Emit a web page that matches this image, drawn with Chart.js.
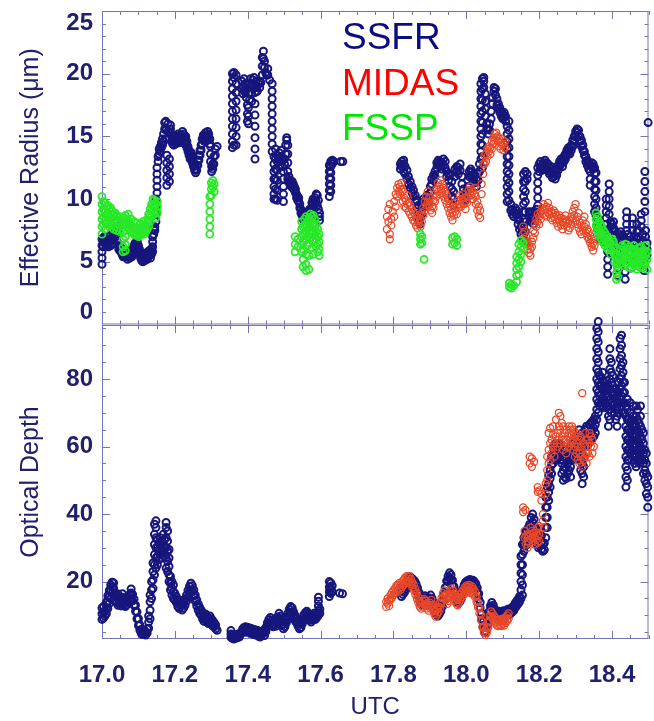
<!DOCTYPE html>
<html>
<head>
<meta charset="utf-8">
<title>SSFR / MIDAS / FSSP retrievals</title>
<script src="https://cdn.jsdelivr.net/npm/chart.js@4.4.1/dist/chart.umd.min.js"></script>
<style>
  body { margin: 0; background: #fff; }
  #wrap { position: relative; width: 654px; height: 721px; background: #fff; }
  #wrap canvas { position: absolute; left: 0; }
</style>
</head>
<body>
<div id="wrap">
  <canvas id="reffChart" width="654" height="330" style="top:0"></canvas>
  <canvas id="tauChart" width="654" height="406" style="top:315px"></canvas>
</div>
<script>
// rows: [UTC hour, values at that time...]

const seriesNames = ['SSFR', 'MIDAS', 'FSSP'];
const legendColors = ['#0c0c82', '#ff0000', '#00e600'];
const markerColors = ['#16167c', 'rgb(232,72,40)', 'rgb(40,232,40)'];
const markerWidths = [2.0, 1.3, 1.8];

const xTicks = [17.0, 17.2, 17.4, 17.6, 17.8, 18.0, 18.2, 18.4];
const reffTicks = [0, 5, 10, 15, 20, 25];
const tauTicks = [20, 40, 60, 80];

// effective radius (um), SSFR
const ssfrReff = [
  [17.000,4.8,5.3,5.8,6.3,6.8],[17.003,6.9,6.2],[17.006,6.6,7.0],[17.009,6.4,6.9],[17.012,6.8,6.3],
  [17.015,6.5,7.0],[17.018,6.2,6.7],[17.021,6.6,7.1],[17.024,6.3,6.8],[17.027,6.9,6.4],[17.030,7.4,6.8],
  [17.034,8.1,7.5,6.9],[17.038,7.7,7.0],[17.042,8.2,7.4,6.6],[17.046,6.3,6.0],[17.049,5.9,6.2],
  [17.052,5.8,6.1],[17.055,5.6,6.0],[17.058,5.7,5.4],[17.061,5.5,5.9],[17.064,5.4,5.7],[17.067,5.6,5.9],
  [17.070,5.5,5.2],[17.073,5.4,5.8],[17.076,5.6,5.3],[17.079,5.5,5.9],[17.082,5.8,5.4],[17.085,5.6,6.0],
  [17.088,5.9,6.3],[17.091,6.1,6.5],[17.094,6.4,6.0],[17.097,6.6,6.1],[17.100,6.3,5.9],[17.103,6.0,5.6],
  [17.106,5.7,5.3],[17.109,5.5,5.1],[17.112,5.4,5.0],[17.115,5.6,5.2],[17.118,5.5,5.1],[17.121,5.7,5.3],
  [17.124,5.5,5.2],[17.127,5.4,5.8],[17.130,5.5,5.9],[17.133,5.6,5.3],[17.136,5.6,6.0],
  [17.139,5.8,6.2,6.6,7.0],[17.142,7.2,7.6],[17.145,7.5,7.8],[17.148,8.2,8.8,9.4,10.0],
  [17.151,10.5,11.0,11.5,12.0,12.5],[17.154,13.0,13.4],[17.157,13.6,14.0],[17.160,14.2,13.8],
  [17.163,14.5,14.1],[17.166,14.3,14.8],[17.169,14.6,15.2],[17.172,15.6,16.1],[17.175,16.2,15.5,14.8],
  [17.178,13.5,12.9,12.3,11.7,11.1],[17.181,16.0,15.4],[17.185,13.2,12.6,12.0,11.4],[17.188,15.9,15.3,15.6],
  [17.191,15.0,14.6],[17.194,14.4,14.9],[17.197,14.8,14.3],[17.200,14.6,15.0],[17.203,14.9,14.4],
  [17.206,14.5,15.0],[17.209,14.7,15.2],[17.212,15.0,14.5],[17.215,14.6,15.1],[17.218,15.1,14.7],
  [17.221,15.4,14.9],[17.224,15.2,14.8],[17.227,14.9,14.4],[17.230,15.0,14.5],[17.233,14.6,14.1],
  [17.236,14.2,13.8],[17.239,13.9,13.5],[17.242,13.6,13.2],[17.245,13.7,13.2],[17.248,13.3,12.9],
  [17.251,13.0,12.6],[17.254,12.7,12.3],[17.257,12.4,12.1],[17.260,12.3,12.7],[17.263,12.7,13.1],
  [17.266,13.1,13.5],[17.269,13.5,13.9],[17.272,13.9,14.3],[17.275,14.4,14.8],[17.278,14.7,15.1],
  [17.281,15.0,14.6],[17.284,15.3,14.9],[17.287,15.1,14.7],[17.290,15.4,15.0],[17.293,15.2,14.8],
  [17.296,14.8,14.4],[17.298,14.2,13.6,13.0],[17.301,12.6,12.2],[17.304,12.4,12.8],[17.307,12.8,13.4],
  [17.311,14.0,13.5],[17.316,14.2],
  [17.358,14.1,14.6,15.2,15.8,16.4,17.0,17.6,18.2,18.8,19.4,20.0],[17.362,14.3,19.7,20.1],
  [17.368,14.3,15.0,15.7,16.4,17.1,17.8,18.5,19.2,19.9],[17.384,19.4,18.8],[17.387,19.0,18.4],
  [17.390,18.7,19.6],[17.393,19.2,18.5],[17.396,18.8,18.1],[17.399,17.5,16.8,16.2],[17.402,16.0,16.6,17.3],
  [17.405,17.9,18.5,19.2],[17.408,19.6,19.0],[17.411,18.4,17.8],[17.414,18.9,19.5],[17.417,19.7,19.1],
  [17.420,18.5,17.6,16.7,15.8,14.9,14.0,13.2],[17.423,18.9,19.4],[17.426,18.6,19.0],[17.430,19.2],
  [17.433,18.9,19.4],[17.436,19.3],[17.440,19.9,20.6,21.3],[17.443,21.8,21.2],[17.446,20.5,21.0],
  [17.449,20.1],[17.452,19.9],[17.455,20.4,19.9],[17.460,19.5],
  [17.467,19.2,18.6,18.0,17.4,16.8,16.2,15.6,15.0,14.4,13.8],[17.472,13.4,12.8,12.2,11.6,11.0,10.4,10.0],
  [17.476,14.0,13.2,12.4,11.6,10.8,10.0],[17.481,13.5,13.0,12.3,11.5,10.7,9.9],[17.486,13.3,13.7],
  [17.489,13.0,12.7],[17.492,13.4,13.9],[17.495,13.1,12.6],[17.498,12.2,11.6,11.0,10.4,9.8],
  [17.501,13.2,12.8],[17.504,13.6,14.3],[17.507,14.7,14.9],[17.510,14.3,13.6,12.9,12.2,11.6],
  [17.513,11.8,11.4],[17.516,11.5,11.2],[17.519,11.3,11.0],[17.522,11.1,11.4],[17.525,10.9,11.2],
  [17.528,10.7,11.0],[17.531,10.8,10.5],[17.534,10.4,10.1],[17.537,10.2,9.9],[17.540,9.8,10.1],
  [17.543,9.6,9.3],[17.546,9.2,8.9],[17.549,8.7,9.0],[17.552,8.4,8.8],[17.555,8.3,8.6],[17.558,8.7,8.5],
  [17.561,8.9,8.6],[17.564,8.4,8.8],[17.567,8.6,9.0],[17.570,8.8,9.2],[17.573,9.1,8.7],[17.576,9.3,9.7],
  [17.579,9.6,10.0],[17.582,9.4,9.9],[17.585,10.1,9.6],[17.588,10.4,9.8],[17.591,10.3,9.5],
  [17.594,9.9,9.2],[17.597,8.9,8.6,8.3],
  [17.624,10.2,10.7,11.2,11.7,12.2,12.7],[17.628,10.6,11.1,11.6,12.1,12.6,13.0],[17.632,12.8,13.1],
  [17.636,13.0],[17.655,13.0],[17.661,13.0],
  [17.819,12.8,12.4],[17.823,13.0,12.6],[17.828,13.1,12.8,12.2],[17.832,12.6,12.0],[17.837,12.3,11.6],
  [17.841,11.8,11.2],[17.846,11.4,10.9],[17.851,11.0,10.5],[17.855,10.7,10.2],[17.860,10.3,9.8],
  [17.864,9.9,9.3],[17.869,9.5,8.8,8.2],[17.873,8.6,8.0],[17.878,8.8,9.4],[17.882,9.6,10.0],
  [17.887,9.4,9.9],[17.892,9.8,10.3],[17.896,10.1,9.7],[17.901,10.5,11.0],[17.905,11.2,11.6],
  [17.910,11.5,11.9],[17.914,12.2,11.8],[17.919,12.5,12.9],[17.923,12.8,13.1],[17.928,12.6,13.0],
  [17.933,12.4,12.9],[17.937,12.7,13.2],[17.942,13.0,12.5],[17.946,12.2,11.8],[17.951,12.0,11.5],
  [17.955,11.9,11.0],[17.960,11.4,10.8,10.2],[17.965,10.6,10.0,9.5],[17.969,11.8,12.4],[17.974,12.6,12.2],
  [17.978,12.0,12.5],[17.983,12.8,12.3],[17.988,11.8,11.2],[17.992,10.8,10.2],[17.996,9.9,10.4],
  [18.000,10.0,10.6],[18.004,11.0,11.5],[18.008,11.8,12.2],[18.012,12.4,11.9],[18.016,12.2,11.6],
  [18.020,11.5,12.0],[18.024,11.9,11.3],[18.028,11.0,11.6],[18.032,11.5,12.0],[18.036,12.2,12.8],
  [18.040,13.2,13.8,14.4,15.0,15.6,16.2,16.8,17.4,18.0,18.6,19.2],
  [18.044,12.5,13.4,14.3,15.2,16.1,17.0,17.9,18.8,19.6],[18.048,19.4,19.7,18.9],
  [18.052,18.4,17.8,17.2,16.6],[18.056,16.0,15.6],[18.060,15.2,15.6],[18.064,15.5,16.0],
  [18.068,16.4,17.0],[18.072,17.6,18.1],[18.076,18.6,18.9],[18.080,18.8,18.3],[18.084,18.0,17.5],
  [18.088,17.2,17.6],[18.092,17.3,16.9],[18.096,16.6,17.0],[18.100,16.8,16.4],[18.104,16.5,16.9],
  [18.108,16.6,16.2],[18.112,15.8,15.2,14.6,14.0,13.4,12.8,12.2,11.6,11.0,10.4,9.8],
  [18.117,16.2,15.5,14.8,14.1,13.4,12.7,12.0,11.3,10.6,9.9],[18.122,9.6,9.1],[18.126,8.8,9.2],
  [18.130,8.6,9.0],[18.134,9.3,8.9],[18.138,8.7,9.1],[18.142,8.4,8.0],[18.146,8.3,7.6],[18.150,7.8,7.2],
  [18.154,7.5,7.0],[18.157,7.2,7.8,8.4,9.0,9.6,10.2,10.8,11.4,12.0],
  [18.162,6.6,7.4,8.2,9.0,9.8,10.6,11.4,12.2],[18.167,12.0,11.6],[18.172,8.6,9.0],[18.176,8.2,8.8],
  [18.180,8.5,9.0],[18.184,8.0,8.6],[18.188,8.3,8.9],[18.192,8.7,9.2],[18.196,9.5,10.1,10.7,11.3,11.9,12.5],
  [18.200,12.2,12.8],[18.204,12.5,13.0],[18.208,12.7,12.3],[18.212,12.4,12.9],[18.216,12.6,13.1],
  [18.220,12.9,12.4],[18.224,12.3,12.8],[18.228,12.5,12.0],[18.232,12.1,12.6],[18.236,12.0,11.7],
  [18.240,11.8,12.3],[18.244,12.0,11.6],[18.248,11.9,12.4],[18.252,12.3,12.7],[18.256,12.6,13.0],
  [18.260,12.8,13.2],[18.264,12.6,13.1],[18.268,13.0,13.4],[18.272,13.2,13.6],[18.276,13.5,13.9],
  [18.280,13.7,14.1],[18.284,14.0,13.6],[18.288,13.9,14.3],[18.292,14.2,14.7],[18.296,14.6,15.0],
  [18.300,15.0,15.4],[18.304,15.3,15.6],[18.308,15.5,15.1],[18.312,15.0,14.6],[18.316,14.7,14.2],
  [18.320,14.3,13.9],[18.324,13.8,13.5],[18.328,13.4,13.0],[18.332,13.1,12.7],[18.336,12.9,12.4],
  [18.340,12.7,12.2,11.6,11.1],[18.344,12.6,12.9],[18.348,12.4,12.8],[18.352,12.5,12.0,11.4,10.8,10.2,9.6,9.0],
  [18.356,12.1,11.4,10.7,10.0,9.3,8.7],[18.360,8.5,8.0,7.6],[18.364,7.8,7.2],[18.368,7.4,6.8],
  [18.372,7.6,7.0],[18.376,6.9,7.3],[18.380,7.1,6.6],[18.384,7.5,8.0,8.5,9.0,9.5,10.0],
  [18.388,6.4,5.8,5.2,4.6,4.0],[18.392,11.2,10.6,10.0,9.4,8.8],[18.396,8.2,7.8],[18.400,7.6,8.0],
  [18.404,8.2,7.7],[18.408,7.5,7.1],[18.412,7.0,6.5],[18.416,6.3,5.7,5.1,4.5,3.9],[18.420,6.8,7.2],
  [18.424,7.4,6.9],[18.428,6.6,7.1],[18.432,7.0,6.4],[18.436,6.0,5.4,4.8,4.2,3.6],[18.440,9.0,8.5,8.0,7.5],
  [18.444,7.2,6.7],[18.448,6.5,7.0],[18.452,6.2,5.6,5.0,4.5],[18.456,8.5,8.0,7.5],[18.460,7.0,6.6],
  [18.464,6.4,5.9],[18.468,6.8,7.4,8.0],[18.472,7.5,7.0],[18.476,6.5,6.0,5.5,5.0],[18.480,8.8,8.3,7.8],
  [18.484,7.2,6.7,6.2],[18.488,5.8,5.3,4.8,4.3],[18.490,12.2,11.4,10.6,9.8,9.0],[18.492,7.5,7.0],
  [18.496,6.5,6.0,5.5],[18.499,16.1]
];

// effective radius (um), MIDAS
const midasReff = [
  [17.782,8.6,7.6],[17.786,9.2,8.2],[17.790,9.6,7.2,6.8],[17.794,8.4,7.9],[17.798,9.0],[17.802,9.8,8.6],
  [17.806,10.4,9.4],[17.810,10.9,10.2],[17.814,11.2,10.6],[17.818,11.0,10.4],[17.822,10.8,11.3],
  [17.826,10.6,9.8],[17.830,10.1,9.4],[17.834,9.9,9.3],[17.838,10.3,9.6],[17.842,9.7,9.0],[17.846,9.5,8.8],
  [17.850,9.2,8.6],[17.854,9.0,8.3],[17.858,8.8,8.2],[17.862,8.5,7.9],[17.866,8.3,7.7],[17.870,8.7,8.1],
  [17.874,8.4,7.8],[17.878,8.9,8.2],[17.882,9.3,8.7],[17.886,9.8,9.1],[17.890,10.2,9.5],[17.894,10.6,9.8],
  [17.898,10.1,9.5],[17.902,9.7,9.1],[17.906,9.4,8.9],[17.910,9.9,9.3],[17.914,10.4,9.8],[17.918,10.8,10.2],
  [17.922,11.3,10.6],[17.926,11.0,10.4],[17.930,11.5,10.8],[17.934,11.2,10.5],[17.938,10.9,10.2],
  [17.942,10.6,9.9],[17.946,10.3,9.6],[17.950,10.0,9.3],[17.954,9.6,8.9],[17.958,9.2,8.6],[17.962,8.9,8.3],
  [17.966,9.3,8.7],[17.970,9.7,9.0],[17.974,9.4,8.8],[17.978,9.9,9.3],[17.982,10.3,9.6],[17.986,10.0,9.4],
  [17.990,10.4,9.8],[17.994,10.1,9.6],[17.998,9.8,9.2],[18.002,10.2,9.7],[18.006,10.7,10.2],[18.010,11.0,10.5],
  [18.014,10.8,10.3],[18.018,10.6,10.0],[18.022,10.9,10.4],[18.026,10.2,9.6],[18.030,9.8,9.1],[18.034,9.4,8.7],
  [18.038,9.1,8.5],[18.042,10.4,11.2],[18.046,12.0,12.8],[18.050,12.8,13.5],[18.054,13.0,13.6],
  [18.058,13.4,14.0],[18.062,13.8,14.2],[18.066,13.6,14.1],[18.070,14.0,14.6],[18.074,14.4,14.9],
  [18.078,14.7,15.2],[18.082,14.9,15.3],[18.086,14.6,15.0],[18.090,14.2,14.8],[18.094,14.0,14.5],
  [18.098,14.3,14.8],[18.102,13.9,14.4],[18.106,14.1,14.6],
  [18.156,7.8,7.2],[18.160,7.4,6.8],[18.164,7.0,6.4],[18.168,6.6,6.0],[18.172,6.3,5.7],[18.176,6.0,5.5],
  [18.180,6.6,6.2],[18.184,6.9,7.5],[18.188,7.3,8.0],[18.192,7.8,8.4],[18.196,8.2,8.8],[18.200,8.0,8.6],
  [18.204,8.4,9.0],[18.208,8.8,9.3],[18.212,9.1,9.6],[18.216,8.7,9.2],[18.220,8.6,9.4],[18.224,9.0,9.7],
  [18.228,9.3,8.8],[18.232,8.5,9.0],[18.236,8.3,8.9],[18.240,8.6,9.1],[18.244,8.9,8.4],[18.248,8.1,8.7],
  [18.252,7.8,8.4],[18.256,8.2,8.7],[18.260,7.9,8.5],[18.264,7.6,8.2],[18.268,7.9,8.4],[18.272,8.2,8.7],
  [18.276,7.8,8.3],[18.280,7.5,8.1],[18.284,7.7,8.3],[18.288,8.0,8.6],[18.292,8.4,9.0],[18.296,8.7,9.3],
  [18.300,8.3,9.6],[18.304,8.0,8.6],[18.308,7.7,8.9],[18.312,7.4,8.1],[18.316,7.2,7.9],[18.320,7.5,8.3],
  [18.324,7.8,8.6],[18.328,7.3,8.0],[18.332,7.0,7.6],[18.336,6.8,7.4],[18.340,6.5,7.1],[18.344,6.2,6.8],
  [18.348,5.9,6.5],[18.352,6.3]
];

// effective radius (um), FSSP
const fsspReff = [
  [17.000,7.2,7.8,8.4,9.0,9.6,10.2],[17.004,8.0,8.6,9.2,9.8],[17.008,7.6,8.3,9.0,9.7],[17.012,8.0,8.7,9.4],
  [17.016,8.2,8.9,9.5],[17.020,7.8,8.5,9.2],[17.024,8.1,8.8,9.3],[17.028,7.9,8.5,9.0],[17.032,7.6,8.2,8.8],
  [17.036,7.8,8.4,8.9],[17.040,7.5,8.1,8.7],[17.044,7.7,8.3],[17.048,7.4,8.0,8.6],[17.052,7.6,8.2],
  [17.058,7.4,6.8,6.2,5.8],[17.060,8.0,8.5],[17.064,8.2,8.7,7.0,6.4,5.9],[17.068,7.9,8.4],[17.072,7.7,8.2,8.8],
  [17.076,7.6,8.1],[17.080,7.4,7.9,8.4],[17.084,7.3,7.8],[17.088,7.2,7.7,8.2],[17.092,7.1,7.6],
  [17.096,7.2,7.7,8.1],[17.100,7.0,7.5],[17.104,7.1,7.6,8.0],[17.108,7.2,7.7],[17.112,7.3,7.8,8.2],
  [17.116,7.2,7.6],[17.120,7.4,7.9,8.3],[17.124,7.6,8.1],[17.128,7.8,8.3,8.8],[17.132,8.2,8.7,9.2],
  [17.136,8.6,9.1,9.6],[17.140,9.0,9.5,10.0],[17.144,8.8,9.4,9.9],[17.148,8.5,9.0,9.6],[17.152,8.9,9.4,9.8],
  [17.296,10.2,9.6,9.0,8.4,7.8,7.2],[17.300,11.3,10.8,10.3],[17.304,11.5,11.0],[17.308,11.2,10.6],
  [17.530,7.0,6.4,5.8],[17.538,6.8,6.2],[17.548,8.2,7.6,7.0,6.4,5.8],[17.552,7.8,7.2,6.6,6.0,5.2,4.6],
  [17.556,8.4,7.9,7.3,6.7],[17.560,8.6,8.0,7.4,6.8,5.6,4.8,4.3],[17.564,8.2,7.6,7.0,6.3],
  [17.568,8.5,7.9,7.3,6.5,5.5,4.4],[17.572,8.8,8.2,7.5,6.9],[17.576,8.6,8.0,7.4,6.1],
  [17.580,8.7,8.1,7.3,6.7,5.6],[17.584,8.4,7.8,7.1],[17.588,8.0,7.4,6.8,6.2],[17.592,7.6,7.0,6.4,5.8],
  [17.596,7.2,6.6,6.0,5.5],
  [17.874,7.2,6.8,6.4],[17.878,7.0,6.5],[17.884,5.2],[17.962,6.9,6.4],[17.968,7.0,6.5],[17.974,6.8,6.3],
  [18.118,3.3,3.0],[18.124,3.2,2.9],[18.130,3.1],[18.138,3.4,3.9,4.4,4.9,5.4],[18.144,4.0,4.6,5.2,5.8,6.4],
  [18.150,5.0,5.6,6.2,6.7],[18.156,6.0,6.5],
  [18.356,8.9,8.4,7.9],[18.360,8.6,8.0,7.5],[18.364,8.2,7.7,7.2],[18.368,8.0,7.4,6.9],[18.372,7.8,7.2,6.7],
  [18.376,7.5,7.0,6.5],[18.380,7.3,6.8,6.3],[18.384,7.1,6.6],[18.388,6.9,6.4,6.0],[18.392,6.7,6.2],
  [18.396,6.5,6.0,5.6],[18.400,6.8,6.3],[18.404,6.6,6.1,5.7],[18.408,6.2,5.6,5.0],[18.412,5.5,4.8,4.1,3.6],
  [18.416,5.0,4.4,3.8],[18.420,5.4,4.8],[18.424,6.0,5.4,4.9],[18.428,6.3,5.8,5.2],[18.432,6.1,5.5,4.7],
  [18.436,6.4,5.9,5.3],[18.440,6.0,5.4,4.8],[18.444,5.7,5.1,4.6],[18.448,6.2,5.6,5.0],[18.452,5.8,5.2,4.5],
  [18.456,6.0,5.4,4.9],[18.460,6.3,5.7,5.1],[18.464,5.9,5.3,4.7],[18.468,5.6,5.0,4.4],[18.472,6.1,5.5,4.9],
  [18.476,5.8,5.2,4.6],[18.480,6.2,5.6,5.0],[18.484,5.7,5.1,4.5],[18.488,5.9,5.3,4.8],[18.492,6.3,5.6,5.0],
  [18.496,5.8,5.2,4.4]
];

// optical depth, SSFR
const ssfrTau = [
  [17.000,8.8,10.5,12.2],[17.004,9.2,11.0,12.6],[17.008,9.8,11.4],[17.012,10.5,12.3,13.8],[17.016,12.0,14.0,15.8],
  [17.020,13.5,15.6,17.4],[17.024,15.0,17.2,19.0],[17.028,16.6,18.4,19.8],[17.032,16.0,18.0,19.6],
  [17.036,14.5,16.4],[17.040,13.8,15.6],[17.044,13.0,14.9,16.3],[17.048,13.5,15.2],[17.052,12.8,14.6],
  [17.056,13.6,15.4,16.4],[17.060,13.2,15.0],[17.064,12.6,14.3],[17.068,13.1,14.8],[17.072,13.8,15.6],
  [17.076,14.4,16.2],[17.080,14.8,16.6,17.8],[17.084,14.3,16.2],[17.088,13.0,14.8],[17.092,11.2,13.0],
  [17.096,9.0,11.0],[17.100,7.0,9.0],[17.104,5.6,7.2],[17.108,4.6,5.8],[17.112,4.3,5.4],[17.116,4.6,5.6],
  [17.120,4.2,5.0],[17.124,4.8,6.0],[17.128,6.2,8.0,9.8],[17.132,9.0,11.5,14.0,16.0],[17.136,15.0,17.5,20.0],
  [17.140,18.0,20.5,23.0,25.5],[17.144,22.0,25.0,28.0,31.0,34.0,37.0],[17.148,24.0,27.0,30.0,33.0,36.0,38.0],
  [17.152,25.0,27.5,30.0,32.5],[17.156,26.5,29.0,31.5],[17.160,28.0,30.5,33.0],[17.164,27.0,29.5,32.0],
  [17.168,29.0,31.5,34.0],[17.172,27.5,30.0,32.5],[17.176,24.0,27.0,30.0,33.0,36.0,37.5],
  [17.180,23.0,26.0,29.0,32.0,35.0],[17.184,20.0,22.0,24.5,27.0,29.5],[17.188,17.5,19.5,21.5],
  [17.192,16.0,18.0,20.0],[17.196,15.0,17.0,19.0],[17.200,14.5,16.5],[17.204,13.8,15.6],[17.208,12.6,14.4],
  [17.212,12.0,13.6],[17.216,12.8,14.5],[17.220,11.6,13.2],[17.224,12.2,13.9],[17.228,13.0,14.8],
  [17.232,14.2,16.0],[17.236,15.5,17.4],[17.240,16.8,18.6],[17.244,17.6,19.5],[17.248,17.0,18.8],
  [17.252,15.8,17.5],[17.256,14.2,16.0],[17.260,12.8,14.6],[17.264,11.6,13.4],[17.268,10.6,12.4],
  [17.272,10.0,11.6],[17.276,9.0,10.8],[17.280,8.2,10.0],[17.284,8.6,10.4],[17.288,8.0,9.6],[17.292,7.6,9.2],
  [17.296,8.2,9.8],[17.300,7.4,9.0],[17.304,6.8,8.4],[17.308,6.6,7.8],[17.312,6.0,7.2],[17.316,5.6],
  [17.354,3.5,4.5,5.5],[17.358,3.2,4.2],[17.362,3.0,3.8],[17.368,3.3,4.1],[17.372,3.4,4.4],[17.377,3.6,4.6],
  [17.386,4.8,6.0],[17.390,5.2,6.4],[17.394,5.6,6.6],[17.398,5.0,6.2],[17.402,5.4,6.4],[17.406,4.8,6.0],
  [17.410,5.0,6.1],[17.414,4.4,5.6],[17.418,4.8,5.8],[17.422,4.2,5.2],[17.426,4.6,5.6],[17.430,3.8,4.8],
  [17.434,3.6,4.6],[17.438,4.2,5.2],[17.442,4.6,5.5],[17.446,4.0,5.0],[17.450,5.2,6.4],[17.454,6.6,7.8],
  [17.458,7.4,8.8],[17.462,7.8,9.4],[17.466,7.0,8.6],[17.470,6.6,8.0],[17.474,7.2,8.6],[17.478,6.8,8.2],
  [17.482,8.0,9.5],[17.486,9.0,10.6],[17.490,8.2,9.8],[17.494,7.0,8.4],[17.498,6.0,7.4],[17.502,6.6,8.0],
  [17.506,7.8,9.4],[17.510,9.0,10.6],[17.514,10.2,11.8],[17.518,11.0,12.6],[17.522,10.6,12.2],
  [17.526,9.4,11.0],[17.530,8.4,10.0],[17.534,7.8,9.2],[17.538,6.8,8.2],[17.542,6.0,7.4],[17.546,6.4,7.8],
  [17.550,7.6,9.0],[17.554,8.6,10.2],[17.558,9.4,10.8],[17.562,9.8,11.2],[17.566,9.2,10.6],[17.570,8.6,10.0],
  [17.574,8.0,9.4],[17.578,8.6,10.0],[17.582,9.2,10.6],[17.586,8.8,10.2],[17.590,9.4,10.8],
  [17.594,10.0,11.4,12.8,14.2,15.4],[17.598,10.6,11.8],
  [17.624,15.6,17.0,18.4,20.0],[17.628,16.5,18.0,19.6],[17.632,17.0,18.8],[17.652,16.6],[17.660,16.4],
  [17.822,15.6,17.2,18.4],[17.826,16.2,17.8],[17.830,16.8,18.4],[17.834,17.6,19.2],[17.838,18.4,20.0],
  [17.842,19.2,20.8],[17.846,19.8,21.4],[17.850,19.6,21.0],[17.854,19.0,20.6],[17.858,18.6,20.2],
  [17.862,17.8,19.4],[17.866,16.6,18.2],[17.870,15.2,16.8],[17.874,13.8,15.4],[17.878,13.2,14.8],
  [17.882,13.6,15.2],[17.886,14.2,15.8],[17.890,13.6,15.2],[17.894,13.0,14.6],[17.898,13.6,15.2],
  [17.902,14.4,16.0],[17.906,13.4,15.0],[17.910,12.2,13.8],[17.914,11.0,12.6],[17.918,10.2,11.8],
  [17.922,9.8,11.4],[17.926,10.4,12.0],[17.930,11.2,12.8],[17.934,12.6,14.2],[17.938,14.4,16.0],
  [17.942,16.6,18.2],[17.946,18.6,20.2],[17.950,20.0,21.6],[17.954,21.0,22.6],[17.958,20.4,22.0],
  [17.962,18.8,20.4],[17.966,17.0,18.6],[17.970,15.4,17.0],[17.974,14.0,15.6],[17.978,13.6,15.2],
  [17.982,14.0,15.6],[17.986,14.8,16.4],[17.990,16.2,17.8],[17.994,17.4,19.0],[17.998,18.2,19.8],
  [18.002,18.6,20.2],[18.006,18.8,20.4],[18.010,19.0,20.6],[18.014,18.6,20.2],[18.018,18.8,20.4],
  [18.022,18.4,20.0],[18.026,17.8,19.4],[18.030,16.6,18.2],[18.034,14.8,16.4],[18.038,12.2,13.8],
  [18.042,9.0,10.6],[18.046,6.4,8.0],[18.050,5.0,6.6],[18.054,5.4,7.2],[18.058,7.2,9.0],[18.062,9.4,11.0],
  [18.066,11.2,12.8],[18.070,12.2,13.8],[18.074,11.4,13.0],[18.078,10.2,11.8],[18.082,9.6,11.2],
  [18.086,9.2,10.8],[18.090,9.8,11.2],[18.094,9.4,10.8],[18.098,9.6,11.0],[18.102,10.0,11.4],
  [18.106,9.6,11.0],[18.110,10.0,11.4],[18.114,10.4,11.8],[18.118,10.2,11.6],[18.122,10.6,12.0],
  [18.126,11.0,12.4],[18.130,11.4,12.8],[18.134,12.2,13.6],[18.138,12.8,14.2],[18.142,13.4,14.8],
  [18.146,14.0,15.6],[18.150,15.0,17.5,20.0,22.5,25.0,27.5],[18.154,16.0,19.0,22.0,25.0,28.0,31.0],
  [18.158,29.0,31.0,33.0],[18.162,30.6,32.6,34.6],[18.166,31.0,33.0,35.0],[18.170,32.0,34.0,36.0],
  [18.174,33.0,35.0,37.0],[18.178,34.0,36.5,39.0],[18.182,35.0,37.5,40.0],[18.186,33.5,36.0,38.5],
  [18.190,32.0,34.0,36.0],[18.194,31.0,33.0],[18.198,30.0,32.0,34.0],[18.202,30.6,32.6],
  [18.206,29.6,31.6,33.6],[18.210,29.0,31.0],[18.214,29.4,31.4],[18.218,33.0,36.0,39.0,42.0,45.0],
  [18.222,36.0,39.0,42.0,45.0,48.0],[18.226,44.0,46.5,49.0,51.5],[18.230,48.0,50.5,53.0],
  [18.234,52.0,54.5,57.0],[18.238,55.0,57.5,60.0],[18.242,56.0,58.5,60.5],[18.246,57.0,59.0,61.0],
  [18.250,56.5,58.5,60.5],[18.254,57.0,59.0,61.0],[18.258,56.0,58.0,60.0],[18.262,52.0,55.0,58.0],
  [18.266,50.0,53.0,56.0,59.0],[18.270,51.0,54.0,57.0],[18.274,50.5,53.5,56.5],[18.278,52.0,55.0,58.0],
  [18.282,53.0,56.0,59.0],[18.286,51.0,54.0,57.0,60.0],[18.290,56.0,58.5,61.0],[18.294,57.0,59.5,62.0],
  [18.298,56.5,59.0,61.5],[18.302,57.5,60.0,62.5],[18.306,58.0,60.5,63.0],[18.310,56.0,59.0,62.0,65.0],
  [18.314,53.0,56.0,59.0,62.0],[18.318,49.0,52.0,55.0,58.0,61.0,64.0],[18.322,51.0,54.0,57.0,60.0,63.0],
  [18.326,60.0,62.5,65.0],[18.330,61.0,63.5,66.0],[18.334,60.5,63.0,65.5],[18.338,61.5,64.0,66.5],
  [18.342,62.0,64.5,67.0],[18.346,62.5,65.0,67.5],[18.350,63.0,65.5,68.0],[18.354,64.0,66.5,69.0],
  [18.358,68.0,71.0,74.0,77.0,80.0,83.0,86.0,89.0,92.0,95.0],
  [18.362,70.0,73.0,76.0,79.0,82.0,85.0,88.0,91.0,94.0,97.0],[18.366,72.0,75.0,78.0,81.0],
  [18.370,73.0,75.5,78.0,80.5],[18.374,72.0,74.5,77.0,79.5,82.0],[18.378,71.5,74.0,76.5,79.0],
  [18.382,73.0,75.5,78.0],[18.386,72.0,74.5,77.0,79.5],[18.390,66.0,69.0,72.0,75.0,78.0],
  [18.394,68.0,71.0,74.0,77.0,80.0,83.0,86.0,89.0],[18.398,70.0,73.0,76.0,79.0,82.0,85.0],
  [18.402,72.0,75.0,78.0,81.0],[18.406,70.0,73.0,76.0],[18.410,68.0,71.0,74.0,77.0],
  [18.414,66.0,69.0,72.0,75.0],[18.418,70.0,73.0,76.0,79.0],[18.422,74.0,77.0,80.0,83.0,86.0,89.0,92.0],
  [18.426,72.0,75.0,78.0,81.0,84.0,87.0,90.0,93.0],[18.430,70.0,73.0,76.0,79.0,82.0,85.0],
  [18.434,70.0,73.0,76.0,79.0],[18.438,48.0,51.0,54.0,57.0,60.0,63.0,66.0,69.0,72.0],
  [18.442,50.0,53.0,56.0,59.0,62.0,65.0,68.0,71.0,74.0],[18.446,56.0,59.0,62.0,65.0,68.0],
  [18.450,58.0,61.0,64.0,67.0,70.0,73.0],[18.454,56.0,59.0,62.0,65.0,68.0],
  [18.458,57.0,60.0,63.0,66.0,69.0,72.0],[18.462,55.0,58.0,61.0,64.0,67.0],
  [18.466,54.0,57.0,60.0,63.0,66.0,69.0,72.0],[18.470,56.0,59.0,62.0,65.0,68.0,71.0],
  [18.474,55.0,58.0,61.0,64.0,67.0],[18.478,57.0,60.0,63.0,66.0,69.0,72.0],[18.482,56.0,59.0,62.0,65.0],
  [18.486,52.0,55.0,58.0,61.0,64.0],[18.490,50.0,53.0,56.0,59.0],[18.494,46.0,49.0,52.0,55.0,58.0],
  [18.498,42.0,45.0,48.0,51.0]
];

// optical depth, MIDAS
const midasTau = [
  [17.780,12.5,14.0],[17.784,13.5,15.0],[17.788,12.8,14.4],[17.792,14.6,16.0],[17.796,15.2,16.8],
  [17.800,16.0,17.4],[17.804,16.6,18.0],[17.808,17.4,18.8],[17.812,17.0,19.0],[17.816,18.0,19.6],
  [17.820,17.6,19.2],[17.824,18.4,20.0],[17.828,19.0,20.6],[17.832,19.6,21.2],[17.836,20.2,21.6],
  [17.840,19.8,21.4],[17.844,20.0,21.6],[17.848,19.2,20.8],[17.852,18.2,19.8],[17.856,17.4,19.0],
  [17.860,16.2,17.8],[17.864,15.0,16.6],[17.868,13.8,15.4],[17.872,12.6,14.2],[17.876,12.0,13.6],
  [17.880,12.6,14.2],[17.884,13.2,14.8],[17.888,12.8,14.4],[17.892,12.0,13.6],[17.896,11.4,13.0],
  [17.900,12.2,13.8],[17.904,13.0,14.6],[17.908,11.6,13.2],[17.912,10.4,12.0],[17.916,9.6,11.2],
  [17.920,10.2,11.8],[17.924,11.0,12.6],[17.928,12.2,13.8],[17.932,13.6,15.2],[17.936,15.0,16.6],
  [17.940,15.8,17.4],[17.944,14.6,16.2],[17.948,13.4,15.0],[17.952,14.2,15.8],[17.956,15.6,17.2],
  [17.960,16.4,18.0],[17.964,15.8,17.4],[17.968,14.6,16.2],[17.972,13.6,15.2],[17.976,13.0,14.6],
  [17.980,13.8,15.4],[17.984,14.6,16.2],[17.988,15.4,17.0],[17.992,16.0,17.6],[17.996,16.6,18.2],
  [18.000,17.2,18.8],[18.004,16.8,18.4],[18.008,17.4,19.0],[18.012,16.6,18.2],[18.016,17.0,18.6],
  [18.020,16.2,17.8],[18.024,15.4,17.0],[18.028,14.0,15.6],[18.032,12.4,14.0],[18.036,10.6,12.2],
  [18.040,8.6,10.2],[18.044,6.6,8.2],[18.048,5.0,6.4],[18.052,4.2,5.6],[18.056,4.8,6.2],[18.060,6.4,8.0],
  [18.064,8.2,9.8],[18.068,9.6,11.2],[18.072,9.0,10.6],[18.076,8.2,9.8],[18.080,7.6,9.2],[18.084,7.0,8.6],
  [18.088,6.8,8.4],[18.092,7.2,8.8],[18.096,6.8,8.4],[18.100,7.4,9.0],[18.104,7.0,8.6],[18.108,7.8,9.4],
  [18.112,8.4,10.0],[18.116,9.0,10.6],
  [18.156,40.6,42.0],[18.160,33.0,35.0],[18.162,41.2],[18.164,31.0,33.5],[18.168,30.0,32.0,34.0],
  [18.172,31.5,33.5],[18.174,55.0,57.0],[18.176,34.0,36.0],[18.180,35.0,33.0,54.0,56.5],[18.184,34.5,32.0],
  [18.186,55.5],[18.188,33.5,31.0],[18.192,32.5,34.5],[18.196,31.5,33.5,36.0,46.6,48.0],
  [18.200,32.0,34.0,36.5,47.0],[18.206,44.0,46.0],[18.210,38.0,40.0],[18.214,36.0],[18.218,46.0,49.0],
  [18.222,50.0,53.0,57.0],[18.226,55.0,59.0,64.0],[18.230,56.0,61.0,65.5],[18.234,58.0,62.0],
  [18.238,60.0,63.5,66.0],[18.242,57.0,61.0],[18.246,59.0,63.0,68.0],[18.250,60.0,64.0],
  [18.254,62.0,66.0,70.0],[18.258,61.0,65.0,69.0],[18.262,63.0,67.0],[18.266,59.0,62.0,66.0],
  [18.270,60.0,64.0],[18.274,58.0,62.0,65.0],[18.278,61.0,63.0],[18.282,60.0,64.0,66.0],[18.286,62.0,65.0],
  [18.290,61.0,63.5,66.0],[18.294,59.0,62.0,65.0],[18.298,57.0,60.0,63.0],[18.302,58.0,61.0,64.0],
  [18.306,56.0,60.0,63.0],[18.310,55.0,58.0,62.0],[18.314,57.0,60.0,63.0],[18.318,54.0,59.0,75.8],
  [18.322,56.0,61.0],[18.326,57.0,60.0,64.0],[18.330,55.0,58.0,62.0],[18.334,58.0,62.0],
  [18.338,57.0,61.0,64.0],[18.342,60.0,63.0],[18.346,58.0,62.0],[18.350,60.0]
];

const FONT = "'Liberation Sans', Arial, Helvetica, sans-serif";
const AXIS_COLOR = '#7474b6';
const LABEL_COLOR = '#20206e';

function pointsFrom(rows) {
    return rows.flatMap(([t, ...vals]) => vals.map(v => ({ x: t, y: v })));
}

function circles(i, rows) {
    return {
        label: seriesNames[i],
        data: pointsFrom(rows),
        borderColor: markerColors[i],
        backgroundColor: 'rgba(0,0,0,0)',
        pointRadius: 3.5,
        pointHoverRadius: 3.5,
        pointBorderWidth: markerWidths[i],
        order: 3 - i, // SSFR underneath, FSSP on top
        clip: false
    };
}

// box round the plot with inward major / minor ticks on all four sides
const frameTicks = {
    id: 'frameTicks',
    beforeDatasetsDraw(chart, args, opts) {
        const { ctx, chartArea: a } = chart;
        const xs = chart.scales.x, ys = chart.scales.y;
        ctx.save();
        ctx.strokeStyle = AXIS_COLOR;
        ctx.lineWidth = 1;
        ctx.strokeRect(a.left + 0.5, a.top + 0.5, a.right - a.left - 1, a.bottom - a.top - 1);
        ctx.beginPath();
        const nx = Math.round((xs.max - xs.min) / opts.xMinor);
        for (let i = 0; i <= nx; i++) {
            const len = i % opts.xEvery === 0 ? 8 : 4;
            const px = Math.round(xs.getPixelForValue(xs.min + i * opts.xMinor)) + 0.5;
            ctx.moveTo(px, a.top); ctx.lineTo(px, a.top + len);
            ctx.moveTo(px, a.bottom); ctx.lineTo(px, a.bottom - len);
        }
        const k0 = Math.ceil(ys.min / opts.yMinor - 1e-9);
        const k1 = Math.floor(ys.max / opts.yMinor + 1e-9);
        for (let k = k0; k <= k1; k++) {
            const len = k % opts.yEvery === 0 ? 8 : 4;
            const py = Math.round(ys.getPixelForValue(k * opts.yMinor)) + 0.5;
            ctx.moveTo(a.left, py); ctx.lineTo(a.left + len, py);
            ctx.moveTo(a.right, py); ctx.lineTo(a.right - len, py);
        }
        ctx.stroke();
        ctx.restore();
    }
};

const legendText = {
    id: 'legendText',
    afterDraw(chart, args, opts) {
        if (!opts.show) return;
        const ctx = chart.ctx;
        ctx.save();
        ctx.font = '37px ' + FONT;
        ctx.textBaseline = 'middle';
        ctx.textAlign = 'left';
        seriesNames.forEach((name, i) => {
            ctx.fillStyle = legendColors[i];
            ctx.fillText(name, opts.x, opts.y + i * opts.gap);
        });
        ctx.restore();
    }
};

function yAxis(min, max, ticks, title, insideEnds) {
    return {
        type: 'linear',
        min: min,
        max: max,
        afterFit(s) { s.width = 102; s.paddingTop = 0; s.paddingBottom = 0; },
        afterBuildTicks(s) { s.ticks = ticks.map(v => ({ value: v })); },
        grid: { display: false, drawTicks: false },
        border: { display: false },
        ticks: {
            padding: 9, color: LABEL_COLOR,
            font: { family: FONT, size: 24, weight: 'bold', lineHeight: 1.0 },
            // end labels sit inside the box: an empty line pushes them half a line in
            callback: v => {
                if (insideEnds && v === max) return ['', String(v)];
                if (insideEnds && v === min) return [String(v), ''];
                return String(v);
            }
        },
        title: {
            display: true, text: title, color: LABEL_COLOR,
            font: { family: FONT, size: 25 }, padding: { top: 16, bottom: 0 }
        }
    };
}

function xAxis(show) {
    return {
        type: 'linear',
        display: show,
        min: 17.0,
        max: 18.5,
        afterFit(s) { if (show) s.height = 82; s.paddingLeft = 0; s.paddingRight = 0; },
        afterBuildTicks(s) { s.ticks = xTicks.map(v => ({ value: v })); },
        grid: { display: false, drawTicks: false },
        border: { display: false },
        ticks: {
            padding: 22, maxRotation: 0, autoSkip: false, color: LABEL_COLOR,
            font: { family: FONT, size: 24, weight: 'bold' }, callback: v => Number(v).toFixed(1)
        },
        title: {
            display: true, text: 'UTC', color: LABEL_COLOR,
            font: { family: FONT, size: 24, lineHeight: 1.1 }, padding: { top: 0, bottom: 0 }
        }
    };
}

const commonPlugins = { legend: { display: false }, tooltip: { enabled: false } };

new Chart(document.getElementById('reffChart'), {
    type: 'scatter',
    data: { datasets: [circles(0, ssfrReff), circles(1, midasReff), circles(2, fsspReff)] },
    options: {
        responsive: false,
        animation: false,
        events: [],
        layout: { padding: { top: 11, right: 3, bottom: 5, left: 0 } },
        scales: { x: xAxis(false), y: yAxis(0, 25, reffTicks, 'Effective Radius (μm)', true) },
        plugins: {
            ...commonPlugins,
            frameTicks: { xMinor: 0.05, xEvery: 4, yMinor: 1, yEvery: 5 },
            legendText: { show: true, x: 342, y: 39, gap: 45.5 }
        }
    },
    plugins: [frameTicks, legendText]
});

new Chart(document.getElementById('tauChart'), {
    type: 'scatter',
    data: { datasets: [circles(0, ssfrTau), circles(1, midasTau)] },
    options: {
        responsive: false,
        animation: false,
        events: [],
        layout: { padding: { top: 10, right: 3, bottom: 0, left: 0 } },
        scales: { x: xAxis(true), y: yAxis(3, 96, tauTicks, 'Optical Depth', false) },
        plugins: {
            ...commonPlugins,
            frameTicks: { xMinor: 0.05, xEvery: 4, yMinor: 5, yEvery: 4 },
            legendText: { show: false }
        }
    },
    plugins: [frameTicks]
});
</script>
</body>
</html>
